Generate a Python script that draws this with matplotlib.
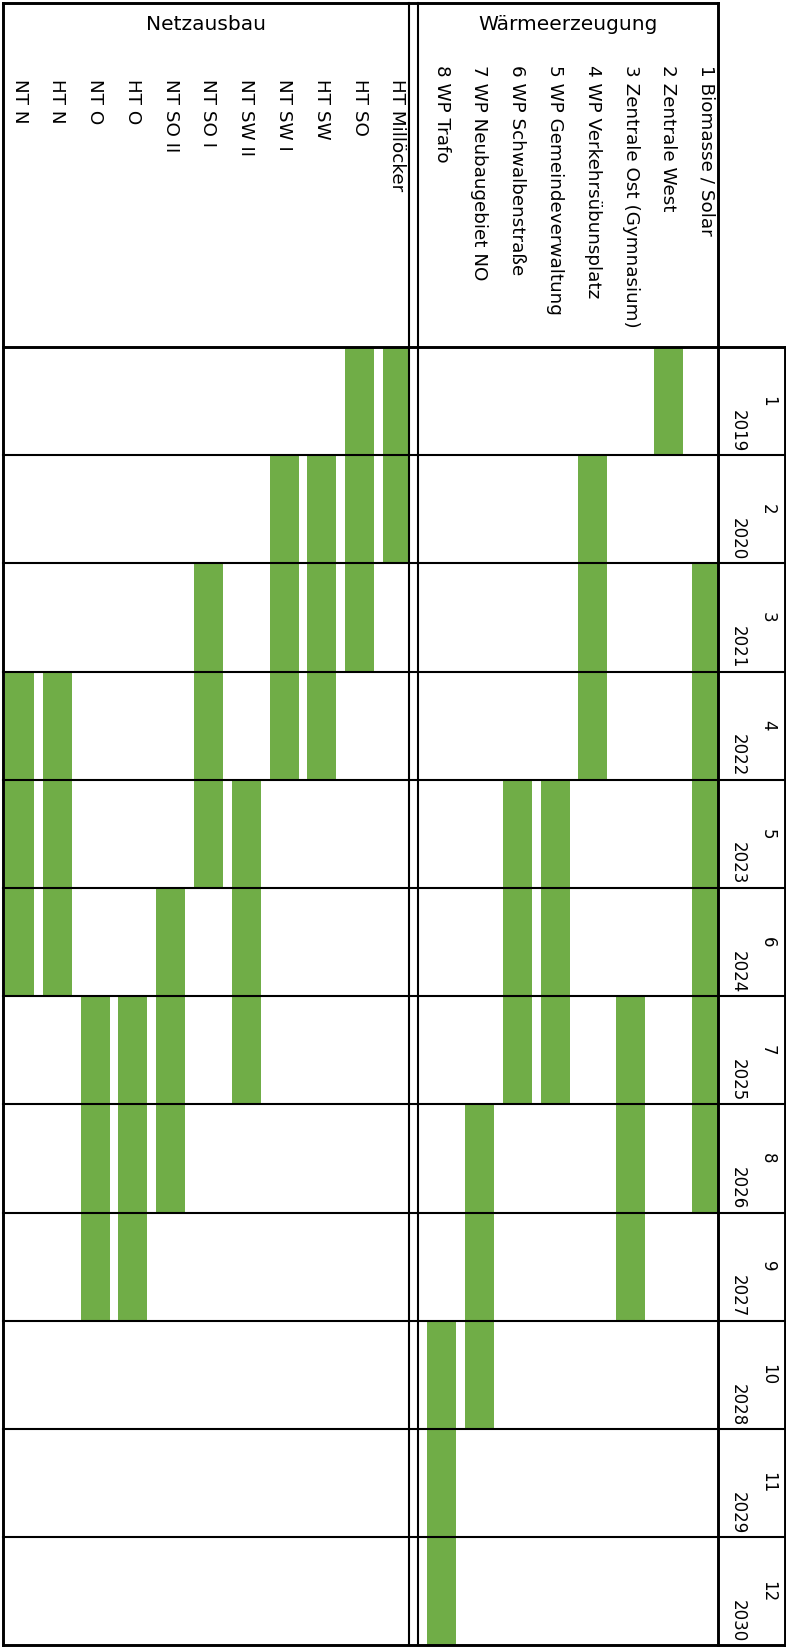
#!/usr/bin/env python3

"""Rotated Gantt table: Wärmeerzeugung / Netzausbau, periods 1-12 (2019-2030)."""

import matplotlib
matplotlib.use('Agg')
import matplotlib.pyplot as plt
from matplotlib.patches import Rectangle

PERIODS = list(range(1, 13))
YEARS = list(range(2019, 2031))

WAERME_LABELS = ["1 Biomasse / Solar", "2 Zentrale West", "3 Zentrale Ost (Gymnasium)",
                 "4 WP Verkehrsübunsplatz", "5 WP Gemeindeverwaltung",
                 "6 WP Schwalbenstraße", "7 WP Neubaugebiet NO", "8 WP Trafo"]
WAERME_START = [3, 1, 7, 2, 5, 5, 8, 10]
WAERME_END = [8, 1, 9, 4, 7, 7, 10, 12]

NETZ_LABELS = ["HT Millöcker", "HT SO", "HT SW", "NT SW I", "NT SW II", "NT SO I",
               "NT SO II", "HT O", "NT O", "HT N", "NT N"]
NETZ_START = [1, 1, 2, 2, 5, 3, 6, 7, 7, 4, 4]
NETZ_END = [2, 3, 4, 4, 7, 5, 8, 9, 9, 6, 6]

GREEN = '#70AD47'
FONT = 'DejaVu Sans'


def main():
    fig = plt.figure(figsize=(7.86, 16.48), dpi=100)
    ax = fig.add_axes([0, 0, 1, 1])
    ax.set_xlim(-0.516, 20.28)
    ax.set_ylim(12.024, -3.207)   # y = period units, header above 0
    ax.axis('off')

    # column layout (x in task slots)
    n_netz = len(NETZ_LABELS)
    netz_x = [n_netz - 1 - i for i in range(n_netz)]          # HT Millöcker rightmost
    w_off = 11.17
    waerme_x = [w_off + len(WAERME_LABELS) - 1 - i for i in range(len(WAERME_LABELS))]
    left, dbl1, dbl2, split, right = -0.44, 10.30, 10.54, 18.48, 20.25
    bottom = 12.0
    head_top = -3.18

    bw = 0.77
    netz_clip = Rectangle((left, 0), dbl1 - left, bottom, transform=ax.transData)
    waerme_clip = Rectangle((dbl2, 0), split - dbl2, bottom, transform=ax.transData)
    for x, s, e in zip(netz_x, NETZ_START, NETZ_END):
        b = ax.bar(x, e - s + 1, bottom=s - 1, width=bw, color=GREEN, zorder=2)
        b[0].set_clip_path(netz_clip)
    for x, s, e in zip(waerme_x, WAERME_START, WAERME_END):
        b = ax.bar(x, e - s + 1, bottom=s - 1, width=bw, color=GREEN, zorder=2)
        b[0].set_clip_path(waerme_clip)

    # grid lines
    k = dict(color='black', zorder=3, solid_capstyle='projecting')
    for p in PERIODS[:-1]:
        ax.plot([left, right], [p, p], lw=1.5, **k)
    ax.plot([left, right], [0, 0], lw=2.1, **k)
    ax.plot([left, right], [bottom, bottom], lw=2.1, **k)
    ax.plot([left, split], [head_top, head_top], lw=2.1, **k)
    ax.plot([left, left], [head_top, bottom], lw=2.1, **k)
    ax.plot([dbl1, dbl1], [head_top, bottom], lw=1.5, **k)
    ax.plot([dbl2, dbl2], [head_top, bottom], lw=1.5, **k)
    ax.plot([split, split], [head_top, bottom], lw=2.1, **k)
    ax.plot([right, right], [0, bottom], lw=2.1, **k)

    # headers
    ax.text((left + dbl1) / 2, -2.98, "Netzausbau", ha='center', va='center',
            fontsize=14.5, family=FONT)
    ax.text((dbl2 + split) / 2, -2.98, "Wärmeerzeugung", ha='center', va='center',
            fontsize=14.5, family=FONT)
    for x, lab in zip(netz_x, NETZ_LABELS):
        ax.text(x, -2.48, lab, rotation=-90, ha='center', va='top',
                fontsize=13.2, family=FONT)
    for x, lab in zip(waerme_x, WAERME_LABELS):
        ax.text(x, -2.61, lab, rotation=-90, ha='center', va='top',
                fontsize=13.2, family=FONT)

    # period / year labels
    for p, yr in zip(PERIODS, YEARS):
        ax.text(19.8, p - 0.5, str(p), rotation=-90, ha='center', va='center',
                fontsize=12, family=FONT)
        ax.text(19.0, p - 0.03, str(yr), rotation=-90, ha='center', va='bottom',
                fontsize=12, family=FONT)

    fig.savefig('out.png', dpi=100)
    plt.close(fig)


if __name__ == "__main__":
    main()
